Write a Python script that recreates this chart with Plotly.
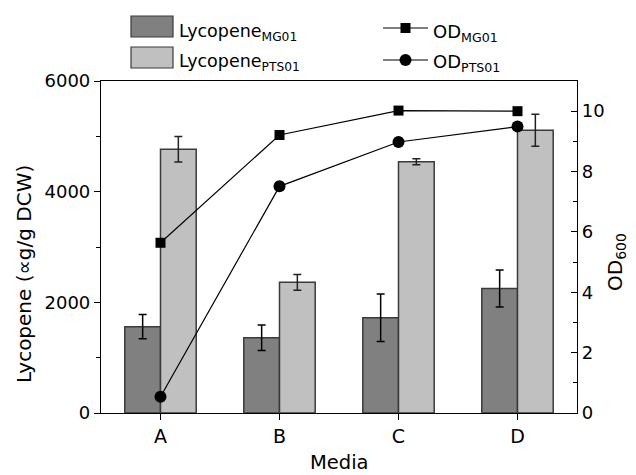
import plotly.graph_objects as go

media = ["A", "B", "C", "D"]
lyco_mg01 = [1560, 1360, 1720, 2250]
lyco_mg01_err = [220, 230, 430, 335]
lyco_pts01 = [4765, 2362, 4542, 5109]
lyco_pts01_err = [230, 143, 55, 290]
od_mg01 = [5.64, 9.21, 10.02, 10.0]
od_pts01 = [0.54, 7.51, 8.98, 9.49]

W, H = 636, 475
L, R, T, B = 101, 59, 81, 62
PW, PH = W - L - R, H - T - B

def px(x):
    return (x - L) / PW

def py(y):
    return (H - B - y) / PH

FONT = "DejaVu Sans, Liberation Sans, Arial, sans-serif"
DARK = "#808080"
LIGHT = "#c0c0c0"
EDGE = "#3a3a3a"

fig = go.Figure()
fig.add_trace(go.Bar(x=media, y=lyco_mg01, name="Lycopene MG01",
                     marker=dict(color=DARK, line=dict(color=EDGE, width=1.5)),
                     error_y=dict(type="data", array=lyco_mg01_err, color="black", thickness=1.5, width=4),
                     showlegend=False))
fig.add_trace(go.Bar(x=media, y=lyco_pts01, name="Lycopene PTS01",
                     marker=dict(color=LIGHT, line=dict(color=EDGE, width=1.5)),
                     error_y=dict(type="data", array=lyco_pts01_err, color="#222222", thickness=1.5, width=4),
                     showlegend=False))
fig.add_trace(go.Scatter(x=media, y=od_mg01, yaxis="y2", mode="lines+markers", name="OD MG01",
                         line=dict(color="black", width=1.2),
                         marker=dict(symbol="square", size=10, color="black"),
                         showlegend=False))
fig.add_trace(go.Scatter(x=media, y=od_pts01, yaxis="y2", mode="lines+markers", name="OD PTS01",
                         line=dict(color="black", width=1.2),
                         marker=dict(symbol="circle", size=12, color="black"),
                         showlegend=False))

shapes = []
annotations = []
# legend: bar swatches
for (y0, y1, col, label, ty) in [(16, 37, DARK, "Lycopene<sub>MG01</sub>", 23),
                                  (47, 68, LIGHT, "Lycopene<sub>PTS01</sub>", 53)]:
    shapes.append(dict(type="rect", xref="paper", yref="paper",
                       x0=px(131), x1=px(173), y0=py(y1), y1=py(y0),
                       fillcolor=col, line=dict(color=EDGE, width=1.2)))
    annotations.append(dict(xref="paper", yref="paper", x=px(177), y=py(ty - 4),
                            text=label, showarrow=False, xanchor="left", yanchor="top",
                            font=dict(family=FONT, size=17.5, color="black")))
# legend: line + marker
for (yc, sym, label, ty) in [(28, "square", "OD<sub>MG01</sub>", 23),
                             (60, "circle", "OD<sub>PTS01</sub>", 53)]:
    shapes.append(dict(type="line", xref="paper", yref="paper",
                       x0=px(383), x1=px(428), y0=py(yc), y1=py(yc),
                       line=dict(color="black", width=1.2)))
    if sym == "square":
        shapes.append(dict(type="rect", xref="paper", yref="paper",
                           x0=px(400.5), x1=px(410.5), y0=py(yc + 5), y1=py(yc - 5),
                           fillcolor="black", line=dict(width=0)))
    else:
        shapes.append(dict(type="circle", xref="paper", yref="paper",
                           x0=px(399.5), x1=px(411.5), y0=py(yc + 6), y1=py(yc - 6),
                           fillcolor="black", line=dict(width=0)))
    annotations.append(dict(xref="paper", yref="paper", x=px(431), y=py(ty - 4),
                            text=label, showarrow=False, xanchor="left", yanchor="top",
                            font=dict(family=FONT, size=18, color="black")))

# axis titles
annotations.append(dict(xref="paper", yref="paper", x=px(24), y=py(274),
                        text="Lycopene (\u221dg/g DCW)", textangle=-90, showarrow=False,
                        xanchor="center", yanchor="middle",
                        font=dict(family=FONT, size=20, color="black")))
annotations.append(dict(xref="paper", yref="paper", x=px(616), y=py(262),
                        text="OD<sub>600</sub>", textangle=-90, showarrow=False,
                        xanchor="center", yanchor="middle",
                        font=dict(family=FONT, size=20, color="black")))
annotations.append(dict(xref="paper", yref="paper", x=px(339), y=py(462),
                        text="Media", showarrow=False,
                        xanchor="center", yanchor="middle",
                        font=dict(family=FONT, size=19.5, color="black")))

fig.update_layout(
    width=W, height=H,
    margin=dict(l=L, r=R, t=T, b=B),
    paper_bgcolor="white", plot_bgcolor="white",
    barmode="group", bargap=0.4, bargroupgap=0,
    font=dict(family=FONT, size=18, color="black"),
    shapes=shapes, annotations=annotations,
    xaxis=dict(
        range=[-0.5, 3.5], showline=True, linecolor="black", linewidth=1.2, mirror=True,
        ticks="outside", ticklen=6, tickwidth=1.2, tickcolor="black",
        minor=dict(ticks="outside", ticklen=4, tickwidth=1, tickcolor="black", dtick=1, tick0=0.5),
        showgrid=False, zeroline=False,
        tickfont=dict(family=FONT, size=19),
    ),
    yaxis=dict(
        range=[0, 6000], tickvals=[0, 2000, 4000, 6000], showline=True, linecolor="black", linewidth=1.2,
        ticks="outside", ticklen=6, tickwidth=1.2, tickcolor="black",
        minor=dict(ticks="outside", ticklen=4, tickwidth=1, tickcolor="black", tickvals=[1000, 3000, 5000]),
        showgrid=False, zeroline=False,
        tickfont=dict(family=FONT, size=18),
    ),
    yaxis2=dict(
        overlaying="y", side="right", range=[0, 11], tickvals=[0, 2, 4, 6, 8, 10],
        showline=True, linecolor="black", linewidth=1.2,
        ticks="inside", ticklen=6, tickwidth=1.2, tickcolor="black",
        minor=dict(ticks="inside", ticklen=4, tickwidth=1, tickcolor="black", tickvals=[1, 3, 5, 7, 9]),
        showgrid=False, zeroline=False,
        tickfont=dict(family=FONT, size=18),
    ),
)

fig.write_html("out.html")
